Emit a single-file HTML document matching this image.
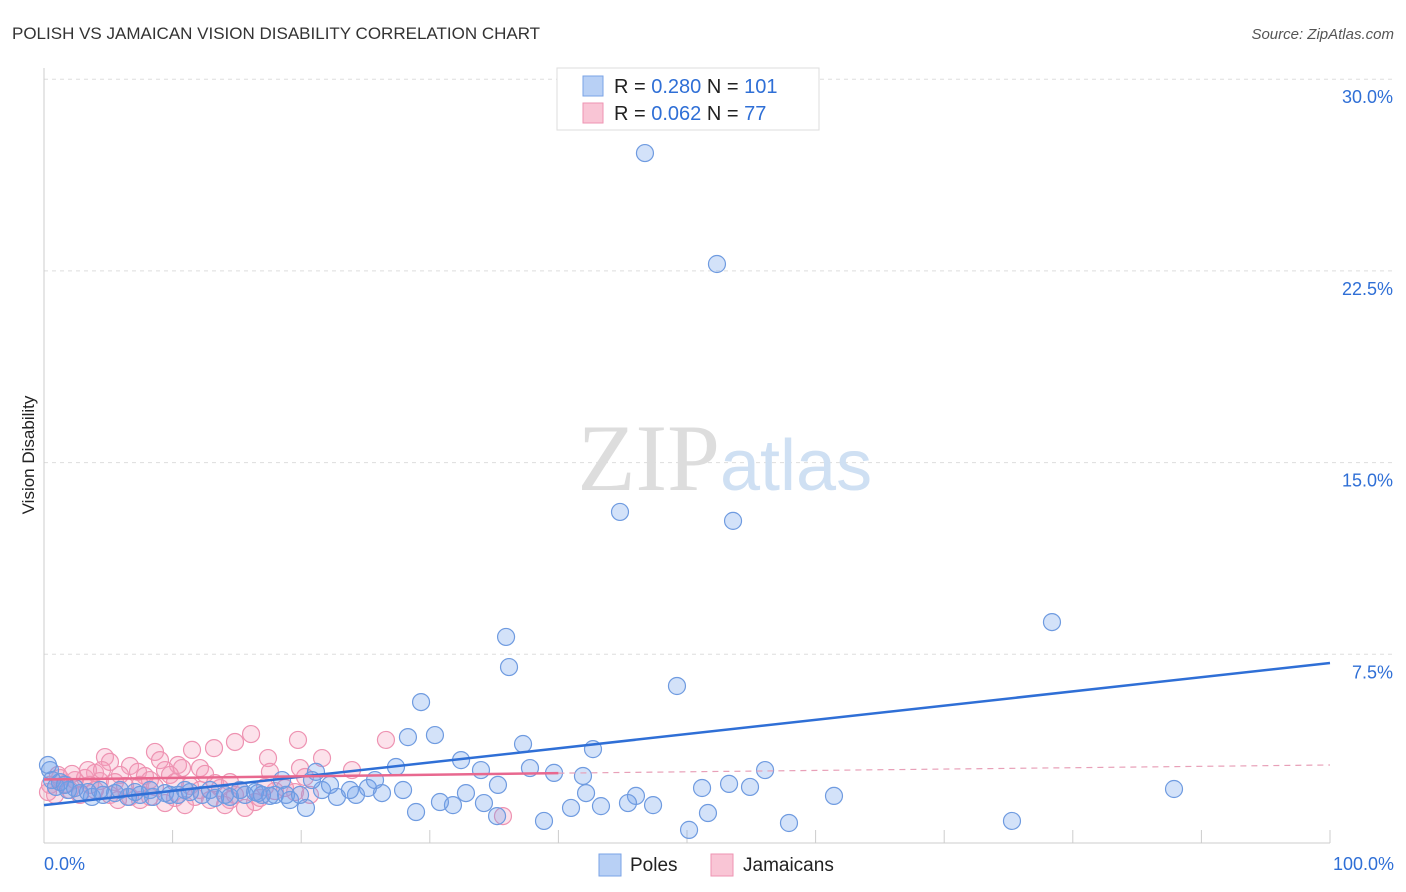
<!DOCTYPE html>
<html><head><meta charset="utf-8"><style>
body{margin:0;background:#fff;font-family:"Liberation Sans",sans-serif;}
svg{display:block}
</style></head><body>
<svg id="chart" width="1406" height="892">
<text x="12" y="39" font-size="17" fill="#333">POLISH VS JAMAICAN VISION DISABILITY CORRELATION CHART</text>
<text x="1394" y="39" font-size="15" fill="#555" font-style="italic" text-anchor="end">Source: ZipAtlas.com</text>
<text x="34" y="455" font-size="17" fill="#222" text-anchor="middle" transform="rotate(-90 34 455)">Vision Disability</text>
<g id="grid"></g>
<text x="720" y="490" font-size="95" fill="#ddd" text-anchor="end" font-family="Liberation Serif">ZIP</text>
<text x="720" y="490" font-size="72" fill="#cfe0f3">atlas</text>
<g id="marks"></g>
<g>
<rect x="557" y="68" width="262" height="62" fill="#fff" stroke="#ddd"/>
<rect x="583" y="76" width="20" height="20" fill="#b8d0f5" stroke="#7aa3e6"/>
<rect x="583" y="103" width="20" height="20" fill="#f9c5d5" stroke="#ee93b2"/>
<text x="614" y="93" font-size="20" fill="#222">R = <tspan fill="#2f6fd6">0.280</tspan>   N = <tspan fill="#2f6fd6">101</tspan></text>
<text x="614" y="120" font-size="20" fill="#222">R = <tspan fill="#2f6fd6">0.062</tspan>   N =  <tspan fill="#2f6fd6">77</tspan></text>
</g>
<g>
<rect x="599" y="854" width="22" height="22" fill="#b8d0f5" stroke="#7aa3e6"/>
<text x="630" y="871" font-size="19" fill="#222">Poles</text>
<rect x="711" y="854" width="22" height="22" fill="#f9c5d5" stroke="#ee93b2"/>
<text x="743" y="871" font-size="19" fill="#222">Jamaicans</text>
</g>
</svg>
<script>
const yTicks=[7.5,15.0,22.5,30.0];
const xTickLabels=["0.0%","100.0%"];
const polesPx=[[645,153],[717,264],[620,512],[733,521],[1052,622],[506,637],[509,667],[677,686],[421,702],[408,737],[435,735],[523,744],[593,749],[461,760],[396,767],[530,768],[481,770],[554,773],[583,776],[765,770],[729,784],[750,787],[702,788],[1174,789],[834,796],[586,793],[636,796],[544,821],[601,806],[628,803],[653,805],[571,808],[708,813],[689,830],[789,823],[1012,821],[497,816],[416,812],[453,805],[440,802],[484,803],[466,793],[498,785],[403,790],[382,793],[368,788],[356,795],[337,797],[322,790],[306,808],[290,800],[282,780],[316,772],[330,785],[350,790],[375,780],[286,795],[270,796],[258,793],[245,795],[230,797],[215,798],[202,795],[190,792],[178,795],[165,793],[153,797],[140,795],[128,797],[115,793],[103,795],[92,797],[80,793],[68,790],[56,787],[50,770],[48,765],[60,782],[75,788],[88,792],[100,790],[120,790],[135,792],[150,790],[170,795],[185,790],[210,790],[225,795],[240,790],[255,792],[275,795],[300,795],[312,780],[262,795],[52,780],[65,785]];
const jamPx=[[251,734],[298,740],[386,740],[214,748],[235,742],[192,750],[155,752],[105,757],[110,762],[268,758],[322,758],[160,760],[178,765],[130,766],[200,768],[138,772],[165,770],[182,768],[300,768],[352,770],[95,773],[120,775],[145,776],[170,775],[205,774],[270,772],[305,777],[60,778],[75,780],[85,778],[100,781],[115,782],[50,785],[65,784],[90,785],[125,786],[140,785],[155,787],[190,786],[220,788],[240,790],[275,791],[295,792],[55,795],[80,795],[110,795],[130,797],[150,797],[175,798],[195,797],[210,800],[230,800],[255,802],[165,803],[185,805],[225,805],[245,808],[503,816],[48,792],[70,790],[95,790],[118,800],[140,800],[200,790],[235,795],[260,798],[285,788],[58,775],[72,774],[88,770],[102,770],[150,780],[175,782],[215,783],[230,782],[265,787],[310,795]];
// convert read positions to data values (x %, y %)
const polesX=polesPx.map(p=>+((p[0]-44)/12.86).toFixed(2));
const polesY=polesPx.map(p=>+((846-p[1])/25.56).toFixed(2));
const jamX=jamPx.map(p=>+((p[0]-44)/12.86).toFixed(2));
const jamY=jamPx.map(p=>+((846-p[1])/25.56).toFixed(2));
const polesTrend=[1.6,7.16];
const jamTrend=[2.6,2.85,3.17];
const NS="http://www.w3.org/2000/svg";
const X=v=>44+v*12.86, Y=v=>846-v*25.56;
function mk(tag,attrs,parent){const e=document.createElementNS(NS,tag);for(const k in attrs)e.setAttribute(k,attrs[k]);parent.appendChild(e);return e;}
const grid=document.getElementById('grid'), marks=document.getElementById('marks');
yTicks.forEach(t=>{
 const l=mk('line',{x1:44,x2:1394,y1:Y(t),y2:Y(t),stroke:'#ddd','stroke-dasharray':'4 4'},grid);
 
 
 const tx=mk('text',{x:1393,y:Y(t)+24,'font-size':18,fill:'#2f6fd6','text-anchor':'end'},grid);
 tx.textContent=t.toFixed(1)+'%';
 
 
});
const ya=mk('line',{x1:44,x2:44,y1:68,y2:843,stroke:'#ccc'},grid);


const xa=mk('line',{x1:44,x2:1330,y1:843,y2:843,stroke:'#ccc'},grid);


for(let i=0;i<=10;i++){const t=mk('line',{x1:X(i*10),x2:X(i*10),y1:830,y2:843,stroke:'#ccc'},grid);
 
 }
[[0,'start',44],[1,'end',1394]].forEach(([i,a,x])=>{const t=mk('text',{x:x,y:870,'font-size':18,fill:'#2f6fd6','text-anchor':a},grid);t.textContent=xTickLabels[i];
 
 });
function dots(xs,ys,fill,stroke,name){xs.forEach((x,i)=>{const c=mk('circle',{cx:X(x),cy:Y(ys[i]),r:8.5,fill:fill,stroke:stroke,'stroke-width':1.2},marks);
 
 });}
dots(jamX,jamY,'rgba(244,160,190,0.3)','#ee93b2','jamaicans-point');
dots(polesX,polesY,'rgba(110,160,235,0.3)','#6f9be0','poles-point');
const bt=mk('line',{x1:X(0),y1:Y(polesTrend[0]),x2:X(100),y2:Y(polesTrend[1]),stroke:'#2f6fd6','stroke-width':2.5},marks);


const pt=mk('line',{x1:X(0),y1:Y(jamTrend[0]),x2:X(40),y2:Y(jamTrend[1]),stroke:'#e8688f','stroke-width':2.5},marks);


const pd=mk('line',{x1:X(40),y1:Y(jamTrend[1]),x2:X(100),y2:Y(jamTrend[2]),stroke:'#e8a0b8','stroke-width':1.2,'stroke-dasharray':'6 5'},marks);


</script>
</body></html>
